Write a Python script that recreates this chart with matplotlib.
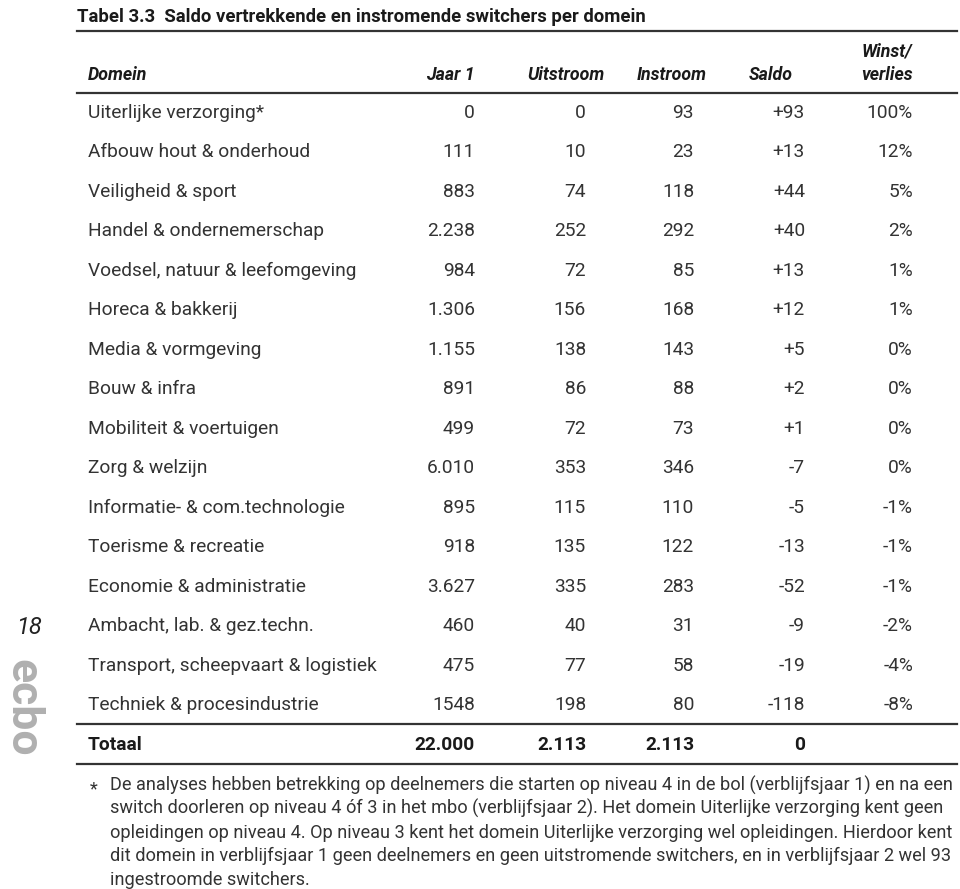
import matplotlib.pyplot as plt
from matplotlib.lines import Line2D

plt.rcParams['font.family'] = ['Roboto', 'DejaVu Sans']

W, H = 960, 889

domeinen = ['Uiterlijke verzorging*', 'Afbouw hout & onderhoud', 'Veiligheid & sport',
            'Handel & ondernemerschap', 'Voedsel, natuur & leefomgeving', 'Horeca & bakkerij',
            'Media & vormgeving', 'Bouw & infra', 'Mobiliteit & voertuigen', 'Zorg & welzijn',
            'Informatie- & com.technologie', 'Toerisme & recreatie', 'Economie & administratie',
            'Ambacht, lab. & gez.techn.', 'Transport, scheepvaart & logistiek',
            'Techniek & procesindustrie']
jaar1 = ['0', '111', '883', '2.238', '984', '1.306', '1.155', '891', '499', '6.010',
         '895', '918', '3.627', '460', '475', '1548']
uitstroom = ['0', '10', '74', '252', '72', '156', '138', '86', '72', '353',
             '115', '135', '335', '40', '77', '198']
instroom = ['93', '23', '118', '292', '85', '168', '143', '88', '73', '346',
            '110', '122', '283', '31', '58', '80']
saldo = ['+93', '+13', '+44', '+40', '+13', '+12', '+5', '+2', '+1', '-7',
         '-5', '-13', '-52', '-9', '-19', '-118']
winst = ['100%', '12%', '5%', '2%', '1%', '1%', '0%', '0%', '0%', '0%',
         '-1%', '-1%', '-1%', '-2%', '-4%', '-8%']
totaal = ['22.000', '2.113', '2.113', '0', '']

kolommen = ['Jaar 1', 'Uitstroom', 'Instroom', 'Saldo']
titel = 'Tabel 3.3  Saldo vertrekkende en instromende switchers per domein'
voetnoot = ['De analyses hebben betrekking op deelnemers die starten op niveau 4 in de bol (verblijfsjaar 1) en na een',
            'switch doorleren op niveau 4 óf 3 in het mbo (verblijfsjaar 2). Het domein Uiterlijke verzorging kent geen',
            'opleidingen op niveau 4. Op niveau 3 kent het domein Uiterlijke verzorging wel opleidingen. Hierdoor kent',
            'dit domein in verblijfsjaar 1 geen deelnemers en geen uitstromende switchers, en in verblijfsjaar 2 wel 93',
            'ingestroomde switchers.']

fig = plt.figure(figsize=(W / 100, H / 100), dpi=100)
fig.patch.set_facecolor('white')


def px(x, y):
    return x / W, 1 - y / H


def txt(x, y, s, **kw):
    kw.setdefault('va', 'center')
    kw.setdefault('color', '#333333')
    return fig.text(*px(x, y), s, **kw)


def hline(y, lw=1.6):
    x0, y0 = px(77, y)
    x1, _ = px(957, y)
    fig.add_artist(Line2D([x0, x1], [y0, y0], color='#333333', lw=lw,
                          transform=fig.transFigure))


body = 13.8
kop = 12.8
voet = 13.1
col_right = [475, 586, 694, 805, 913]
kop_right = [475, 605, 707, 793]
zwart = '#1a1a1a'

# titel
txt(77, 17, titel, fontsize=13.3, fontweight='bold', color=zwart)
hline(31)

# kop
txt(88, 75, 'Domein', fontsize=kop, fontweight='bold', style='italic', color=zwart)
for k, x in zip(kolommen, kop_right):
    txt(x, 75, k, fontsize=kop, fontweight='bold', style='italic', ha='right', color=zwart)
txt(912, 52, 'Winst/', fontsize=kop, fontweight='bold', style='italic', ha='right', color=zwart)
txt(913, 75, 'verlies', fontsize=kop, fontweight='bold', style='italic', ha='right', color=zwart)
hline(93)

# rijen
y0, dy = 113, 39.48
for i, d in enumerate(domeinen):
    y = y0 + i * dy
    txt(88, y, d, fontsize=body)
    for vals, x in zip([jaar1, uitstroom, instroom, saldo, winst], col_right):
        txt(x, y, vals[i], fontsize=body, ha='right')

hline(724)
txt(88, 745, 'Totaal', fontsize=body, fontweight='bold', color=zwart)
for v, x in zip(totaal, col_right):
    txt(x, 745, v, fontsize=body, fontweight='bold', ha='right', color=zwart)
hline(764)

# voetnoot
txt(90, 789, '*', fontsize=voet)
for j, regel in enumerate(voetnoot):
    txt(110, 785 + j * 23.8, regel, fontsize=voet)

# kantlijn
txt(16, 627, '18', fontsize=17, style='italic', ha='left', color='#222222')
txt(1, 708, 'ecbo', fontsize=32, fontweight='bold', color='#b0b0b0',
    rotation=-90, ha='left', va='center')

fig.savefig('out.png', dpi=100, facecolor='white')
